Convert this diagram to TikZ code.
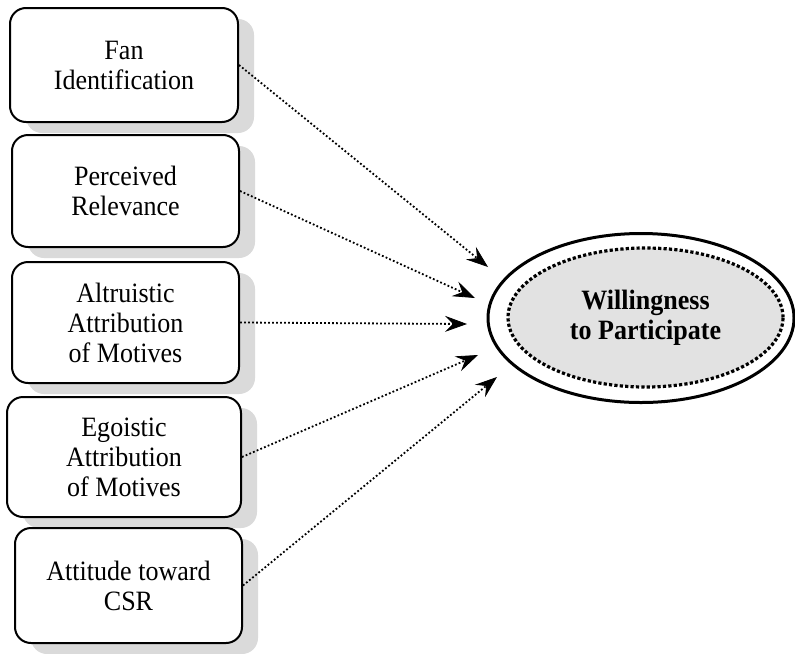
\documentclass[tikz,border=0pt]{standalone}
\usepackage{fontspec}
\setmainfont[FakeStretch=0.93]{Liberation Serif}
\usepackage{tikz}
\usetikzlibrary{positioning}
\usetikzlibrary{shapes,shapes.geometric,arrows.meta,shadows,calc}

\definecolor{shadowgray}{HTML}{DADADA}
\definecolor{fillgray}{HTML}{E2E2E2}

\tikzset{
  factor/.style={draw, line width=1pt, rounded corners=8pt, fill=white, align=center,
    font=\fontsize{14}{15}\selectfont, inner sep=0pt,
    drop shadow={shadow xshift=8pt, shadow yshift=-5.5pt, fill=shadowgray, opacity=1}},
  link/.style={line width=0.9pt, dash pattern=on 0.9pt off 1.1pt,
    -{Stealth[length=11pt, width=8pt, inset=4pt, line width=0.4pt]}}
}

\begin{document}
\begin{tikzpicture}[x=0.5pt,y=-0.5pt]
       \useasboundingbox (0,0) rectangle (795,653);
       \node[factor, minimum width=114pt, minimum height=57pt] (f_1) at (124,65) {Fan\\Identification};
        \node[factor, minimum width=113.5pt, minimum height=56pt] (f_2) at (125.5,191) {Perceived\\Relevance};
        \node[factor, minimum width=113.5pt, minimum height=60.5pt] (f_3) at (125.5,322.5) {Altruistic\\Attribution\\of Motives};
        \node[factor, minimum width=117pt, minimum height=60pt] (f_4) at (124,457) {Egoistic\\Attribution\\of Motives};
        \node[factor, minimum width=113.5pt, minimum height=57.5pt] (f_5) at (128.5,585.5) {Attitude toward\\CSR};

        % outcome
        \node[ellipse, draw, line width=1.5pt, minimum width=153pt, minimum height=84.5pt] (w) at (641,318) {};
        \node[ellipse, draw, fill=fillgray, line width=1.6pt, dash pattern=on 1.6pt off 1.1pt,
              minimum width=137.5pt, minimum height=69.5pt, align=center,
              font=\fontsize{14}{15}\selectfont\bfseries] (w_in) at (645.5,317.5) {Willingness\\to Participate};

        \coordinate (t_1) at (488,267);
        \coordinate (t_2) at (475,298);
        \coordinate (t_3) at (467,324);
        \coordinate (t_4) at (478,355);
        \coordinate (t_5) at (497,377);

        \draw[link] (f_1.east) -- (t_1);
        \draw[link] (f_2.east) -- (t_2);
        \draw[link] (f_3.east) -- (t_3);
        \draw[link] (f_4.east) -- (t_4);
        \draw[link] (f_5.east) -- (t_5);
    \end{tikzpicture}
\end{document}
